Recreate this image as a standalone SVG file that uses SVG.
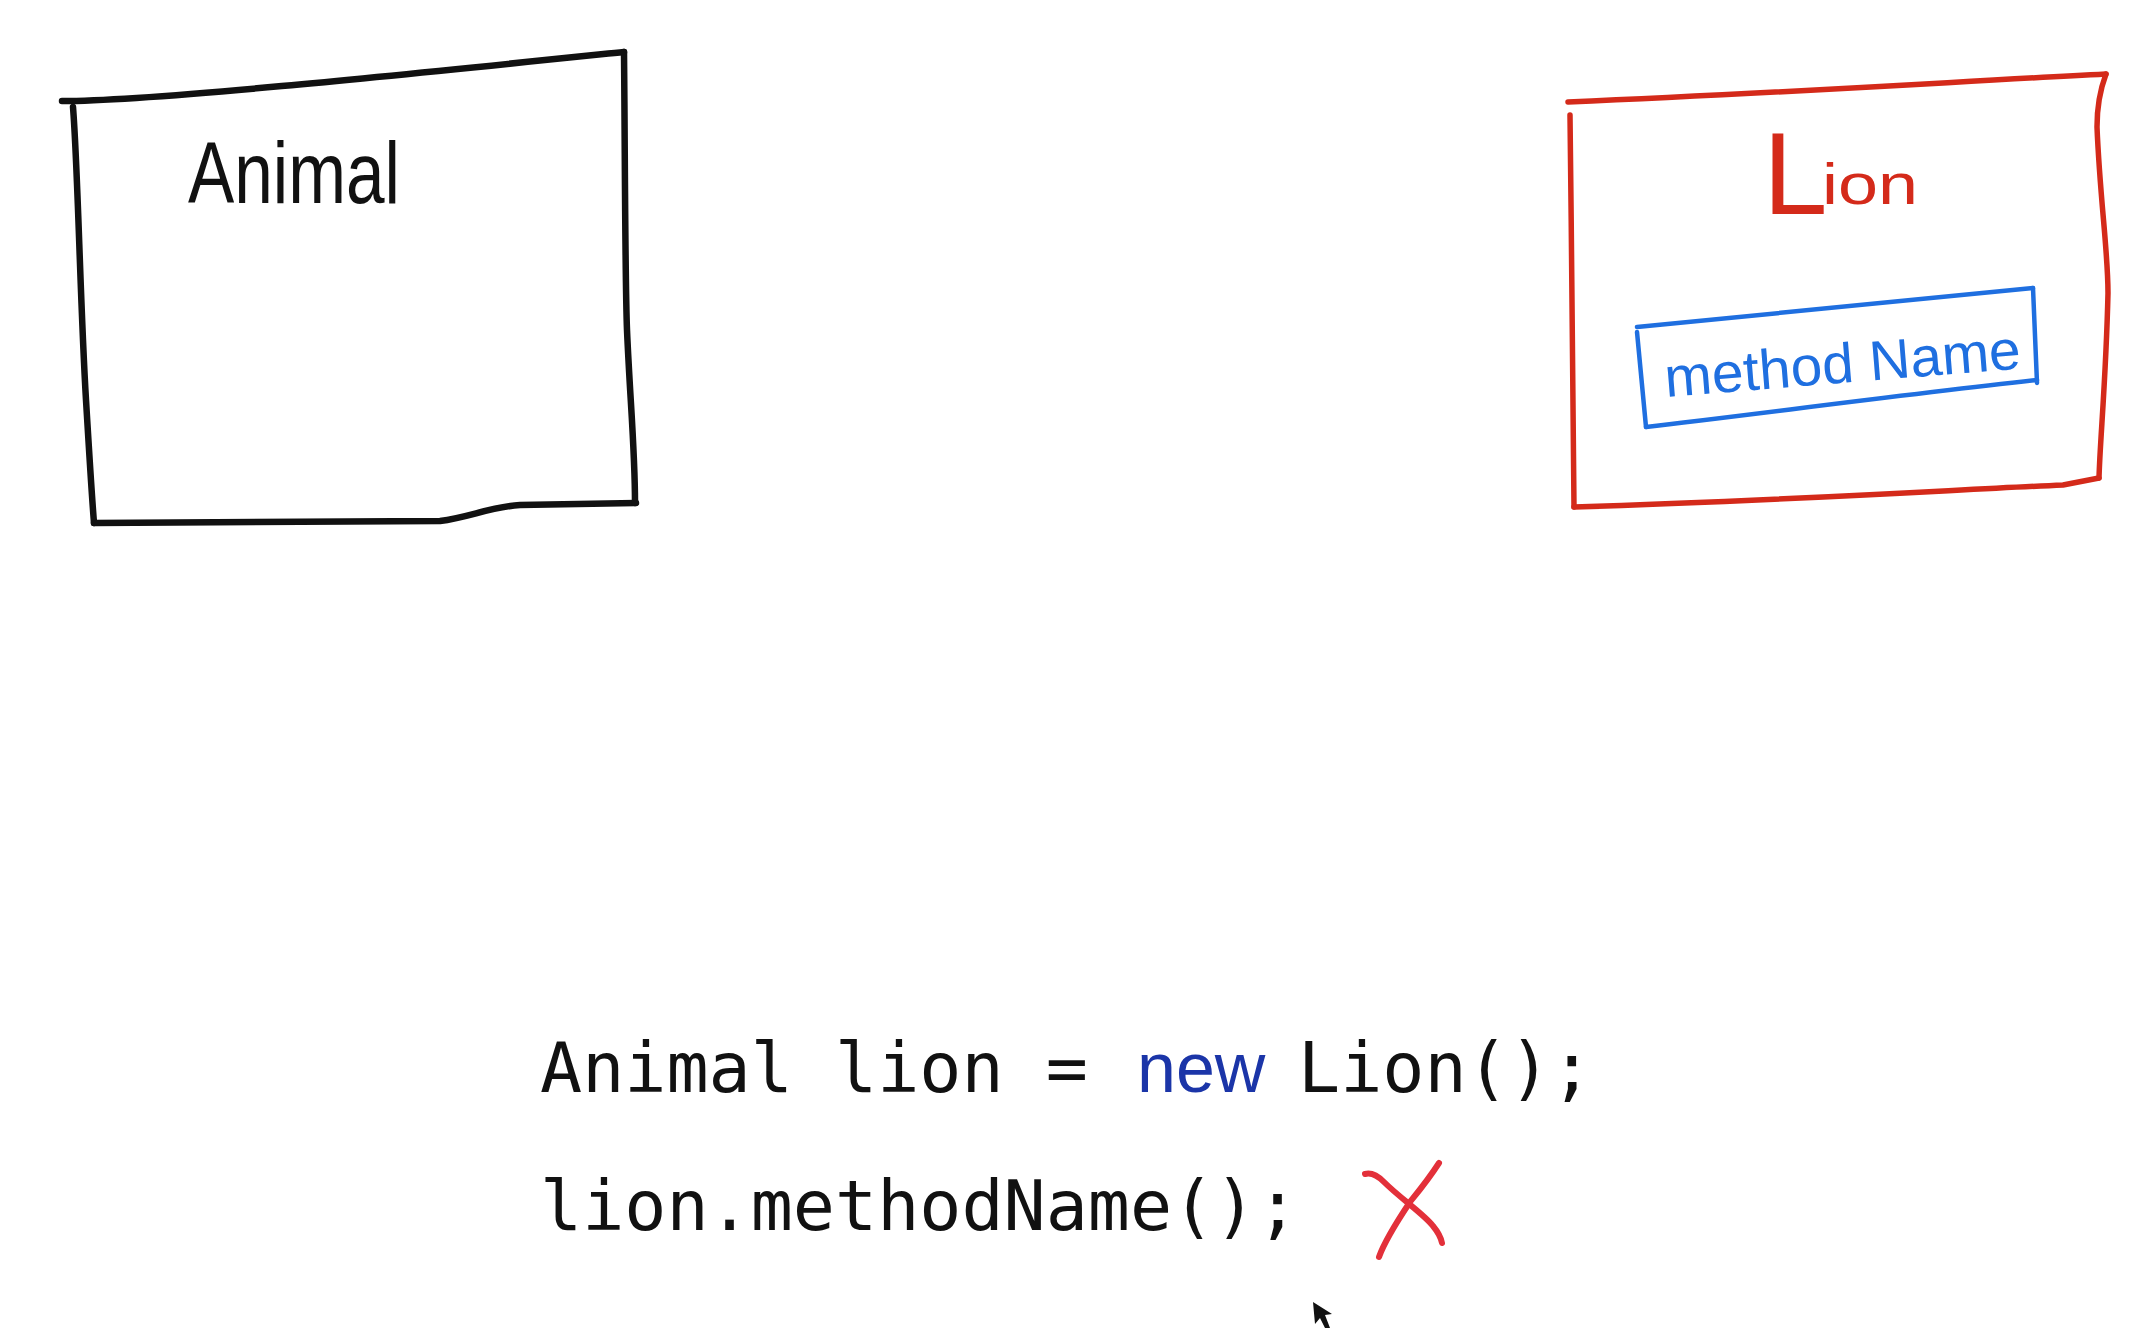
<svg xmlns="http://www.w3.org/2000/svg" width="2156" height="1328" viewBox="0 0 2156 1328">
<style>
.ink{fill:none;stroke-linecap:round;stroke-linejoin:round}
.blk{stroke:#111;stroke-width:6.5}
.red{stroke:#d42a1a;stroke-width:5.5}
.blu{stroke:#1f6fe0;stroke-width:4.5}
.hand{font-family:"Liberation Sans","DejaVu Sans",sans-serif}
.code{font-family:"DejaVu Sans Mono","Liberation Mono",monospace;font-size:70px;fill:#111}
</style>
<rect width="2156" height="1328" fill="#fff"/>
<g id="animal">
<path class="ink blk" d="M62,101 C150,101 400,75 624,52" stroke-width="7.5"/>
<path class="ink blk" d="M73,107 C78,170 80,300 86,400 S93,510 94,523"/>
<path class="ink blk" d="M94,523 L440,521 C470,517 490,507 520,505 L636,503"/>
<path class="ink blk" d="M624,52 C625,150 625,280 627,330 C630,400 635,450 635,503"/>
<text class="hand" x="188" y="203" font-size="88" textLength="212" lengthAdjust="spacingAndGlyphs" fill="#111">Animal</text>
</g>
<g id="lion">
<path class="ink red" d="M1568,102 C1800,92 1950,82 2106,74"/>
<path class="ink red" d="M1570,115 C1572,250 1572,400 1574,507"/>
<path class="ink red" d="M1574,507 C1800,500 1950,490 2063,485 L2099,478"/>
<path class="ink red" d="M2106,74 C2100,90 2097,110 2097,127 C2100,200 2108,250 2108,293 C2106,380 2100,440 2099,478"/>
<text class="hand" x="1763" y="214" fill="#d42a1a"><tspan font-size="116">L</tspan><tspan x="1822" y="204" font-size="58" textLength="96" lengthAdjust="spacingAndGlyphs">ion</tspan></text>
</g>
<g id="methodName">
<path class="ink blu" d="M1637,327 C1800,310 1950,295 2033,288"/>
<path class="ink blu" d="M2033,288 L2037,383"/>
<path class="ink blu" d="M2037,380 C1900,395 1750,415 1646,427"/>
<path class="ink blu" d="M1637,332 L1646,427"/>
<text class="hand" x="1666" y="397" font-size="56" textLength="357" lengthAdjust="spacingAndGlyphs" fill="#1f6fe0" transform="rotate(-4.6 1666 397)">method Name</text>
</g>
<g id="code">
<text class="code" x="540" y="1092">Animal lion =</text>
<text x="1137" y="1092" font-family="'Liberation Sans',sans-serif" font-size="70" fill="#1b35a8">new</text>
<text class="code" x="1298" y="1092">Lion();</text>
<text class="code" x="540" y="1230">lion.methodName();</text>
</g>
<g id="cross">
<path class="ink" stroke="#e3303a" stroke-width="6" d="M1365,1174 C1372,1172 1378,1176 1384,1182 C1400,1198 1425,1215 1433,1226 C1438,1232 1441,1238 1442,1243"/>
<path class="ink" stroke="#e3303a" stroke-width="6" d="M1439,1163 C1428,1180 1418,1192 1410,1202 C1398,1220 1385,1240 1379,1257"/>
</g>
<g id="cursor">
<path d="M1313,1302 L1315,1324 L1320,1318 L1325,1328 L1330,1328 L1325,1315 L1332,1314 Z" fill="#111"/>
</g>
</svg>
